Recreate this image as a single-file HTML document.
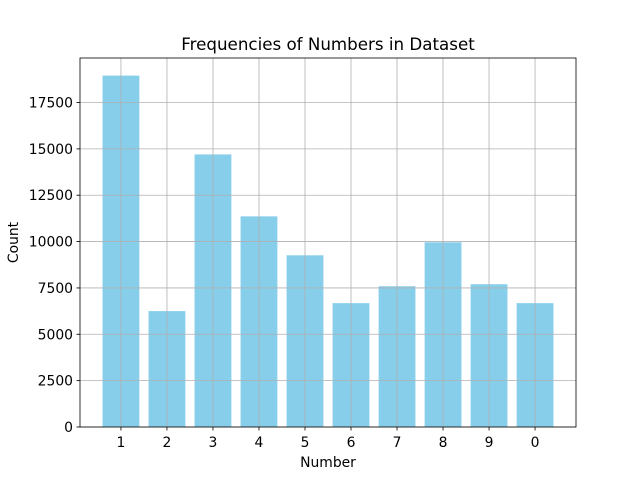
<!DOCTYPE html>
<html><head><meta charset="utf-8"><style>body{margin:0;background:#fff}svg{display:block}text{font-family:"DejaVu Sans","Liberation Sans",sans-serif;fill:#000}</style></head>
<body>
<svg id="chart" width="640" height="480"></svg>
<script>
const categories=["1","2","3","4","5","6","7","8","9","0"];
const counts=[18950,6250,14700,11360,9260,6680,7590,9960,7700,6680];
const yTicks=[0,2500,5000,7500,10000,12500,15000,17500];
const L=80,R=576,T=58,B=427;
const yMax=19900;
const xMin=-0.89,xMax=9.89;
const sx=v=>L+(v-xMin)/(xMax-xMin)*(R-L);
const sy=v=>B-v/yMax*(B-T);
const svg=document.getElementById('chart');
const NS='http://www.w3.org/2000/svg';
function mk(tag,attrs,parent){const e=document.createElementNS(NS,tag);for(const k in attrs)e.setAttribute(k,attrs[k]);(parent||svg).appendChild(e);return e;}
const bars=mk('g',{});


counts.forEach((c,i)=>{const r=mk('rect',{x:sx(i-0.4),y:sy(c),width:sx(i+0.4)-sx(i-0.4),height:B-sy(c),fill:'#87ceeb'},bars);

});
const grid=mk('g',{stroke:'#b0b0b0','stroke-width':0.8});


categories.forEach((c,i)=>{mk('line',{x1:sx(i),x2:sx(i),y1:T,y2:B},grid);
mk('line',{x1:sx(i),x2:sx(i),y1:B,y2:B+3.5,stroke:'#000'},grid);
const t=mk('text',{x:sx(i),y:B+20,'text-anchor':'middle','font-size':13.9});t.textContent=c;

});
yTicks.forEach(v=>{mk('line',{x1:L-3.5,x2:R,y1:sy(v),y2:sy(v)},grid);
mk('line',{x1:L-3.5,x2:L,y1:sy(v),y2:sy(v),stroke:'#000'},grid);
const t=mk('text',{x:L-7,y:sy(v)+5,'text-anchor':'end','font-size':13.9});t.textContent=v;

});
const frame=mk('rect',{x:L,y:T,width:R-L,height:B-T,fill:'none',stroke:'#000','stroke-width':0.8});


const title=mk('text',{x:(L+R)/2,y:50,'text-anchor':'middle','font-size':16.7});title.textContent='Frequencies of Numbers in Dataset';


const xl=mk('text',{x:(L+R)/2,y:467,'text-anchor':'middle','font-size':13.9});xl.textContent='Number';


const yl=mk('text',{x:18,y:(T+B)/2,'text-anchor':'middle','font-size':13.9,transform:'rotate(-90 18 '+(T+B)/2+')'});yl.textContent='Count';


</script>
</body></html>
